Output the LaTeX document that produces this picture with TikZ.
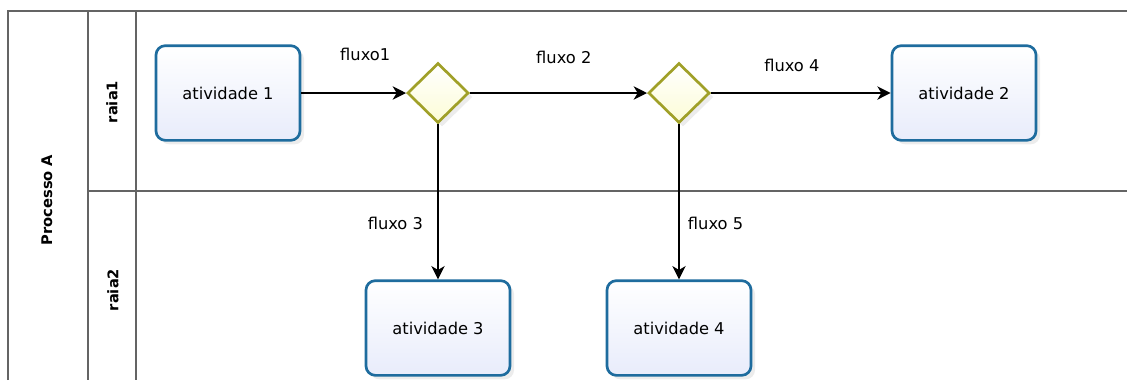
\documentclass[tikz,border=0pt]{standalone}
\usepackage{fontspec}
\setmainfont{DejaVu Sans}
\usepackage{xcolor}
\usepackage{tikz}
\usetikzlibrary{shapes.geometric, arrows.meta, positioning, shadows}

\definecolor{actborder}{RGB}{30,108,158}
\definecolor{actfill}{RGB}{232,236,251}
\definecolor{gwborder}{RGB}{160,160,40}
\definecolor{gwfill}{RGB}{252,252,214}
\definecolor{poolline}{RGB}{100,100,100}

\tikzset{
  activity/.style={draw=actborder, line width=2pt, rounded corners=7pt,
    minimum width=108pt, minimum height=71pt, top color=white, bottom color=actfill,
    drop shadow={shadow xshift=3pt, shadow yshift=-3pt, opacity=0.15},
    font=\fontsize{12.2}{14}\selectfont},
  gateway/.style={diamond, draw=gwborder, line width=2pt, inner sep=0pt,
    minimum width=46pt, minimum height=45pt, top color=white, bottom color=gwfill,
    drop shadow={shadow xshift=3pt, shadow yshift=-3pt, opacity=0.15}},
  flow/.style={-{Stealth[length=10pt, width=10pt, inset=3pt]}, line width=1.1pt},
  flowlabel/.style={font=\fontsize{12.2}{14}\selectfont},
  lanelabel/.style={rotate=90, font=\bfseries\fontsize{11}{13}\selectfont},
  poolrule/.style={draw=poolline, line width=1.1pt}
}

\begin{document}
\begin{tikzpicture}[x=0.75pt, y=-0.75pt]
  \useasboundingbox (0,0) rectangle (1127,380);

  % pool and lanes
  \draw[poolrule] (8,380) -- (8,11) -- (1127,11);
  \draw[poolrule] (88,11) -- (88,380);
  \draw[poolrule] (136,11) -- (136,380);
  \draw[poolrule] (88,191) -- (1127,191);
  \node[lanelabel] (pool) at (47,200) {Processo A};
  \node[lanelabel] (lane1) at (112,102) {raia1};
  \node[lanelabel] (lane2) at (113,290) {raia2};

  % activities and gateways
  \node[activity] (act1) at (228,93) {atividade 1};
  \node[activity] (act2) at (964,93) {atividade 2};
  \node[activity] (act3) at (438,328) {atividade 3};
  \node[activity] (act4) at (679,328) {atividade 4};
  \node[gateway] (gw1) at (438,93) {};
  \node[gateway] (gw2) at (679,93) {};

  % flows
  \draw[flow] (act1) -- (gw1) node[pos=0.61, yshift=28.7pt, flowlabel] {fluxo1};
  \draw[flow] (gw1) -- (gw2) node[pos=0.53, yshift=27pt, flowlabel] {fluxo 2};
  \draw[flow] (gw2) -- (act2) node[pos=0.45, yshift=20.6pt, flowlabel] {fluxo 4};
  \draw[flow] (gw1) -- (act3) node[pos=0.64, xshift=-32pt, flowlabel] {fluxo 3};
  \draw[flow] (gw2) -- (act4) node[pos=0.64, xshift=27.4pt, flowlabel] {fluxo 5};
\end{tikzpicture}
\end{document}
